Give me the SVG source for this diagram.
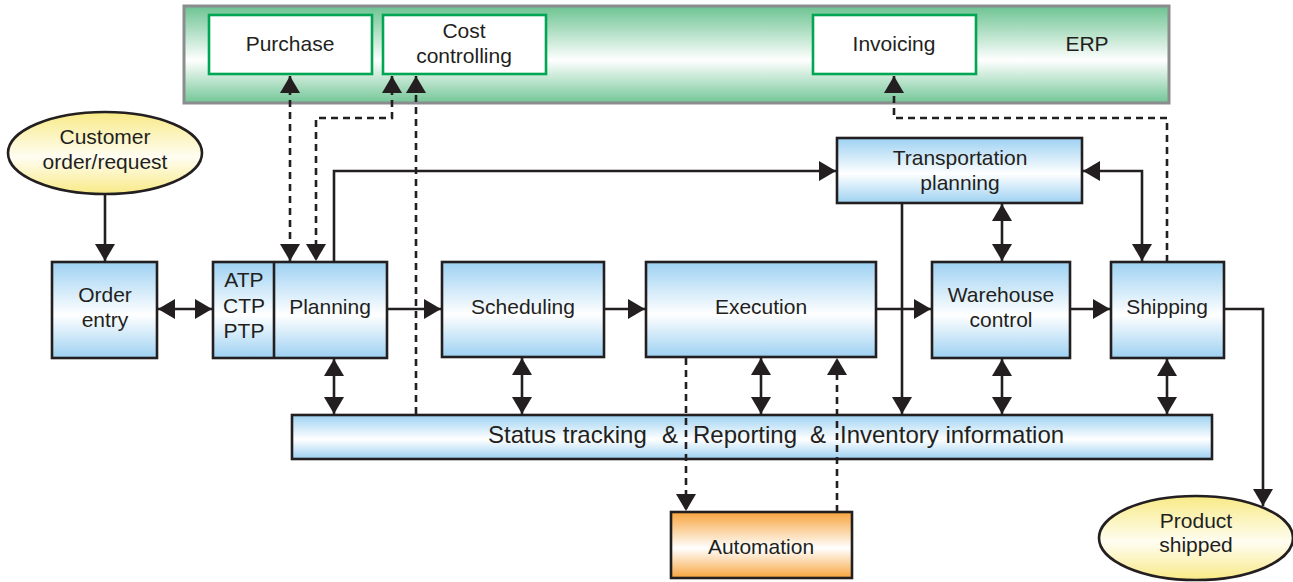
<svg xmlns="http://www.w3.org/2000/svg" width="1293" height="582" viewBox="0 0 1293 582">
<defs>
<linearGradient id="gBlue" x1="0" y1="0" x2="0" y2="1"><stop offset="0" stop-color="#9dd1f2"/><stop offset="0.55" stop-color="#ffffff"/><stop offset="1" stop-color="#9dd1f2"/></linearGradient>
<linearGradient id="gGreen" x1="0" y1="0" x2="0" y2="1"><stop offset="0" stop-color="#6cc391"/><stop offset="0.56" stop-color="#ffffff"/><stop offset="1" stop-color="#72c696"/></linearGradient>
<linearGradient id="gYellow" x1="0" y1="0" x2="0" y2="1"><stop offset="0" stop-color="#f8ea86"/><stop offset="0.55" stop-color="#fffdf2"/><stop offset="1" stop-color="#f8ea86"/></linearGradient>
<linearGradient id="gOrange" x1="0" y1="0" x2="0" y2="1"><stop offset="0" stop-color="#f7a43d"/><stop offset="0.55" stop-color="#ffffff"/><stop offset="1" stop-color="#f7a43d"/></linearGradient>
<marker id="ah" viewBox="0 0 17 20" markerWidth="17" markerHeight="20" refX="17" refY="10" orient="auto-start-reverse" markerUnits="userSpaceOnUse"><path d="M0,0 L17,10 L0,20 z" fill="#231f20"/></marker>
</defs>
<style>
.box{stroke:#231f20;stroke-width:2.6;fill:url(#gBlue)}
.erpbox{fill:#ffffff;stroke:#00a651;stroke-width:2.6}
.t{font-family:"Liberation Sans",Arial,sans-serif;font-size:21px;fill:#231f20;text-anchor:middle}
.st{font-family:"Liberation Sans",Arial,sans-serif;font-size:24px;fill:#231f20}
.ln{fill:none;stroke:#231f20;stroke-width:2.6}
.ds{fill:none;stroke:#231f20;stroke-width:2.6;stroke-dasharray:7,5}
</style>
<g id="erp">
<rect x="184" y="6" width="985" height="97" fill="url(#gGreen)" stroke="#8a8c8e" stroke-width="3"/>
<text class="t" x="1087" y="51">ERP</text>
</g>
<g id="purchase"><rect class="erpbox" x="209" y="15" width="163" height="59"/><text class="t" x="290" y="51">Purchase</text></g>
<g id="cost"><rect class="erpbox" x="383" y="15" width="163" height="59"/><text class="t" x="464" y="38">Cost</text><text class="t" x="464" y="63">controlling</text></g>
<g id="invoicing"><rect class="erpbox" x="813" y="15" width="163" height="59"/><text class="t" x="894" y="51">Invoicing</text></g>
<g id="customer"><ellipse cx="105" cy="153" rx="97" ry="41" fill="url(#gYellow)" stroke="#231f20" stroke-width="2.6"/><text class="t" x="105" y="144">Customer</text><text class="t" x="105" y="169">order/request</text></g>
<g id="orderentry"><rect class="box" x="52" y="262" width="105" height="96"/><text class="t" x="105" y="302">Order</text><text class="t" x="105" y="327">entry</text></g>
<g id="planning"><rect class="box" x="213" y="262" width="174" height="96"/><line x1="274" y1="262" x2="274" y2="358" stroke="#231f20" stroke-width="2.6"/><text class="t" x="244" y="287">ATP</text><text class="t" x="244" y="313">CTP</text><text class="t" x="244" y="338">PTP</text><text class="t" x="330" y="314">Planning</text></g>
<g id="scheduling"><rect class="box" x="442" y="262" width="162" height="95"/><text class="t" x="523" y="314">Scheduling</text></g>
<g id="execution"><rect class="box" x="646" y="262" width="230" height="95"/><text class="t" x="761" y="314">Execution</text></g>
<g id="warehouse"><rect class="box" x="932" y="262" width="138" height="96"/><text class="t" x="1001" y="302">Warehouse</text><text class="t" x="1001" y="327">control</text></g>
<g id="shipping"><rect class="box" x="1111" y="262" width="113" height="96"/><text class="t" x="1167" y="314">Shipping</text></g>
<g id="transport"><rect class="box" x="837" y="138" width="245" height="65"/><text class="t" x="960" y="165">Transportation</text><text class="t" x="960" y="190">planning</text></g>
<g id="status"><rect class="box" x="292" y="415" width="920" height="44"/>
<text class="st" x="488" y="443">Status tracking</text><text class="st" x="662" y="443">&amp;</text><text class="st" x="693" y="443">Reporting</text><text class="st" x="810" y="443">&amp;</text><text class="st" x="840" y="443">Inventory information</text></g>
<g id="automation"><rect x="671" y="512" width="181" height="66" fill="url(#gOrange)" stroke="#231f20" stroke-width="2.6"/><text class="t" x="761" y="554">Automation</text></g>
<g id="product"><ellipse cx="1196" cy="538" rx="97" ry="42" fill="url(#gYellow)" stroke="#231f20" stroke-width="2.6"/><text class="t" x="1196" y="528">Product</text><text class="t" x="1196" y="552">shipped</text></g>
<g id="connectors">
<path class="ln" d="M105,194 V261" marker-end="url(#ah)"/>
<path class="ln" d="M158,309 H212" marker-start="url(#ah)" marker-end="url(#ah)"/>
<path class="ln" d="M388,309 H441" marker-end="url(#ah)"/>
<path class="ln" d="M605,309 H645" marker-end="url(#ah)"/>
<path class="ln" d="M877,309 H931" marker-end="url(#ah)"/>
<path class="ln" d="M1071,309 H1110" marker-end="url(#ah)"/>
<path class="ln" d="M1225,309 H1263 V506" marker-end="url(#ah)"/>
<path class="ln" d="M334,261 V171 H836" marker-end="url(#ah)"/>
<path class="ln" d="M1083,171 H1142 V261" marker-start="url(#ah)" marker-end="url(#ah)"/>
<path class="ln" d="M1002,204 V261" marker-start="url(#ah)" marker-end="url(#ah)"/>
<path class="ln" d="M902,204 V414" marker-end="url(#ah)"/>
<path class="ln" d="M334,359 V414" marker-start="url(#ah)" marker-end="url(#ah)"/>
<path class="ln" d="M522,358 V414" marker-start="url(#ah)" marker-end="url(#ah)"/>
<path class="ln" d="M761,358 V414" marker-start="url(#ah)" marker-end="url(#ah)"/>
<path class="ln" d="M1002,359 V414" marker-start="url(#ah)" marker-end="url(#ah)"/>
<path class="ln" d="M1167,359 V414" marker-start="url(#ah)" marker-end="url(#ah)"/>
<path class="ds" d="M290,76 V261" marker-start="url(#ah)" marker-end="url(#ah)"/>
<path class="ds" d="M392,76 V118 H316 V261" marker-start="url(#ah)" marker-end="url(#ah)"/>
<path class="ds" d="M416,414 V76" marker-end="url(#ah)"/>
<path class="ds" d="M1167,262 V118 H894 V76" marker-end="url(#ah)"/>
<path class="ds" d="M686,358 V511" marker-end="url(#ah)"/>
<path class="ds" d="M837,512 V358" marker-end="url(#ah)"/>
</g>
</svg>
